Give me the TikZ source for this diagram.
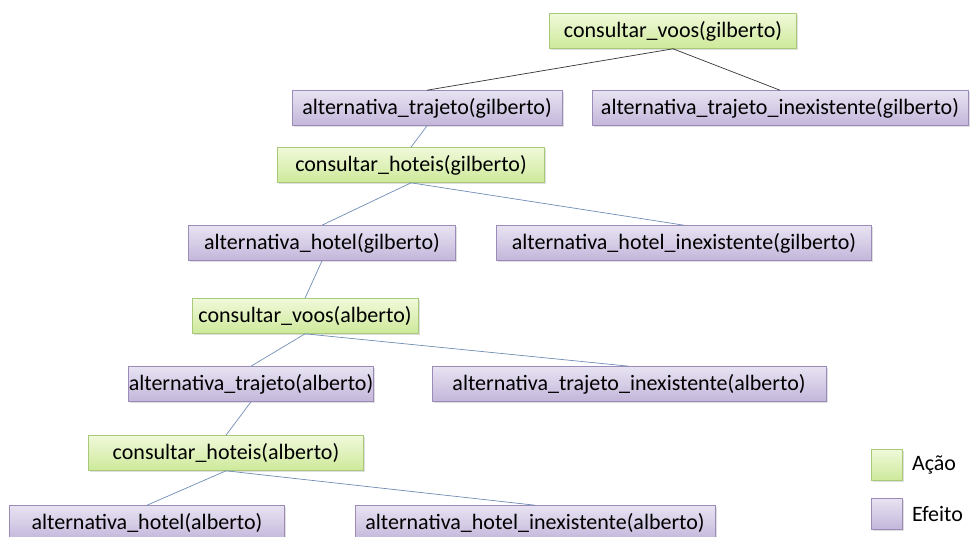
\documentclass[tikz,border=0pt]{standalone}
\usepackage{fontspec}
\setmainfont{Carlito}
\usetikzlibrary{shadows}
\definecolor{verdeA}{HTML}{F0F9DA}
\definecolor{verdeB}{HTML}{CDE99A}
\definecolor{verdeL}{HTML}{A9C97A}
\definecolor{roxoA}{HTML}{E8E3F2}
\definecolor{roxoB}{HTML}{C3B6DA}
\definecolor{roxoL}{HTML}{9C8BB8}
\definecolor{ligacao}{HTML}{6F8CB5}
\begin{document}
\begin{tikzpicture}[x=1pt, y=-1pt,
  caixa/.style={draw, line width=.6pt, minimum height=35pt, inner sep=0pt,
    font=\fontsize{22}{24}\selectfont, drop shadow={opacity=.25, shadow xshift=1.5pt, shadow yshift=-1.5pt}},
  acao/.style={caixa, draw=verdeL, top color=verdeA, bottom color=verdeB},
  efeito/.style={caixa, draw=roxoL, top color=roxoA, bottom color=roxoB},
  ramo/.style={draw=ligacao, line width=.7pt},
  ramotopo/.style={draw=black!80, line width=.7pt}]

  \useasboundingbox (0,0) rectangle (973,536);

  % gilberto
  \node[acao, minimum width=247pt] (voosG) at (673,31) {consultar\_voos(gilberto)};
  \node[efeito, minimum width=270pt] (trajG) at (427,108) {alternativa\_trajeto(gilberto)};
  \node[efeito, minimum width=376pt] (trajGn) at (780,108) {alternativa\_trajeto\_inexistente(gilberto)};
  \node[acao, minimum width=267pt] (hotG) at (411,165) {consultar\_hoteis(gilberto)};
  \node[efeito, minimum width=267pt] (altHG) at (322,243) {alternativa\_hotel(gilberto)};
  \node[efeito, minimum width=375pt] (altHGn) at (684,243) {alternativa\_hotel\_inexistente(gilberto)};

  % alberto
  \node[acao, minimum width=226pt] (voosA) at (305,316) {consultar\_voos(alberto)};
  \node[efeito, minimum width=244pt] (trajA) at (251,384) {alternativa\_trajeto(alberto)};
  \node[efeito, minimum width=394pt] (trajAn) at (629,384) {alternativa\_trajeto\_inexistente(alberto)};
  \node[acao, minimum width=275pt] (hotA) at (226,453) {consultar\_hoteis(alberto)};
  \node[efeito, minimum width=275pt] (altHA) at (147,523) {alternativa\_hotel(alberto)};
  \node[efeito, minimum width=360pt] (altHAn) at (535,523) {alternativa\_hotel\_inexistente(alberto)};

  % ligacoes
  \draw[ramotopo] (voosG.south) -- (trajG.north);
  \draw[ramotopo] (voosG.south) -- (trajGn.north);
  \draw[ramo] (trajG.south) -- (hotG.north);
  \draw[ramo] (hotG.south) -- (altHG.north);
  \draw[ramo] (hotG.south) -- (altHGn.north);
  \draw[ramo] (altHG.south) -- (voosA.north);
  \draw[ramo] (voosA.south) -- (trajA.north);
  \draw[ramo] (voosA.south) -- (trajAn.north);
  \draw[ramo] (trajA.south) -- (hotA.north);
  \draw[ramo] (hotA.south) -- (altHA.north);
  \draw[ramo] (hotA.south) -- (altHAn.north);

  % legenda
  \node[acao, minimum width=31pt, minimum height=31pt] (legA) at (887,465) {};
  \node[efeito, minimum width=31pt, minimum height=31pt] (legE) at (887,514) {};
  \node[anchor=west, font=\fontsize{22}{24}\selectfont, inner sep=0pt, xshift=9pt] (txtA) at (legA.east) {Ação};
  \node[anchor=west, font=\fontsize{22}{24}\selectfont, inner sep=0pt, xshift=9pt] (txtE) at (legE.east) {Efeito};

\end{tikzpicture}
\end{document}
